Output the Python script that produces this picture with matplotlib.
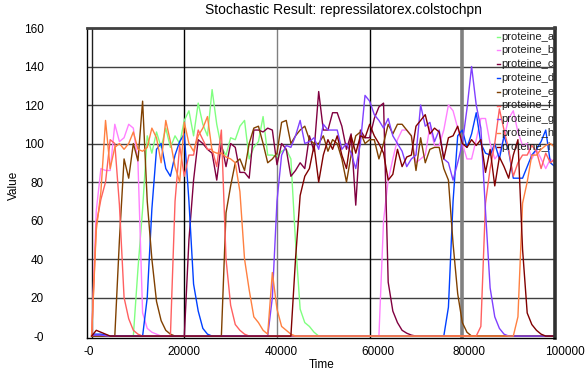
import matplotlib
matplotlib.use('Agg')
import matplotlib.pyplot as plt
from matplotlib.transforms import ScaledTranslation
import numpy as np

plt.rcParams['font.family'] = ['Liberation Sans', 'DejaVu Sans']

# sampling times (every 1000 time units)
time = [i * 1000 for i in range(101)]

series_names = ['proteine_a', 'proteine_b', 'proteine_c', 'proteine_d', 'proteine_e',
                'proteine_f', 'proteine_g', 'proteine_h', 'proteine_i']
series_colors = ['#80ff80', '#ff80ff', '#800040', '#0040ff', '#804000',
                 '#ff6060', '#8040ff', '#ff8040', '#800000']

proteine_a = ([0, 0, 0, 0, 0, 0, 0, 0, 0, 0,
               35, 66, 104, 95, 106, 98, 108, 98, 104, 100,
               112, 117, 104, 121, 110, 104, 128, 110, 98, 94,
               103, 102, 109, 112, 92, 98, 101, 114, 94, 94,
               93, 96, 97, 92, 49, 14, 7, 5, 2, 0]
              + [0] * 51)

proteine_b = ([0, 65, 87, 86, 86, 110, 101, 103, 110, 108,
               90, 12, 4, 2, 1, 0, 0, 0, 0, 0]
              + [0] * 40 +
              [0, 0, 0, 60, 81, 92, 102, 107, 107, 104,
               90, 92, 94, 109, 99, 99, 107, 120, 117, 108,
               100, 92, 92, 102, 113, 113, 100, 92, 95, 103,
               113, 117, 106, 99, 100, 92, 97, 92, 87, 92, 90])

proteine_c = ([0] * 20 +
              [0, 50, 81, 102, 100, 97, 95, 81, 100, 88,
               100, 98, 85, 85, 82, 107, 107, 106, 108, 107,
               89, 100, 97, 83, 86, 90, 87, 104, 96, 127,
               107, 107, 116, 116, 109, 97, 105, 68, 107, 103,
               103, 113, 119, 121, 28, 13, 7, 3, 1.5, 0.5]
              + [0] * 31)

proteine_d = ([1, 1, 1, 0.5, 0, 0, 0, 0, 0, 0,
               0, 0, 20, 66, 97, 100, 87, 83, 94, 101,
               105, 70, 27, 13, 4, 1, 0, 0, 0, 0]
              + [0] * 46 +
              [0, 15, 70, 104,
               107, 98, 105, 116, 100, 95, 94, 100, 92, 104,
               96, 82, 82, 82, 88, 94, 97, 101, 107, 90, 88])

proteine_e = ([0, 0, 0, 0, 0, 0, 50, 92, 82, 100,
               91, 122, 70, 40, 18, 8, 3, 1, 0, 0,
               0, 0, 0, 0, 0, 0, 0, 0, 0, 64,
               78, 90, 92, 86, 100, 108, 109, 100, 90, 92,
               95, 111, 112, 100, 104, 107, 109, 102, 100, 100,
               104, 96, 102, 100, 92, 80, 94, 104, 106, 100,
               102, 102, 92, 100, 110, 105, 110, 110, 107, 104,
               86, 103, 90, 97, 98, 98, 87, 81, 48, 22,
               7, 2]
              + [0] * 19)

proteine_f = ([0, 58, 71, 80, 102, 100, 68, 20, 9, 3,
               1, 0, 0, 0, 0, 0, 0, 0, 70, 99,
               83, 94, 94, 107, 102, 97, 97, 88, 107, 40,
               16, 6, 3, 1]
              + [0] * 50 +
              [5, 69, 87, 100, 118, 107,
               97, 83, 90, 94, 94, 99, 96, 87, 95, 90, 92])

proteine_g = ([0.5, 0.5, 0.5, 0.2]
              + [0] * 35 +
              [20,
               70, 94, 99, 98, 104, 112, 100, 101, 103, 97,
               110, 107, 107, 107, 97, 100, 95, 87, 100, 125,
               122, 115, 112, 108, 113, 104, 100, 96, 88, 92,
               94, 120, 109, 111, 101, 107, 92, 90, 81, 90,
               100, 118, 140, 120, 108, 65, 25, 10, 4, 1]
              + [0] * 11)

proteine_h = ([0, 55, 75, 112, 87, 98, 100, 97, 100, 106,
               97, 96, 98, 108, 103, 90, 112, 101, 88, 80,
               111, 100, 96, 104, 108, 114, 96, 95, 95, 93,
               92, 90, 75, 40, 24, 10, 7, 3, 1, 33,
               14, 5, 3, 1]
              + [0] * 48 +
              [10, 69, 80, 94, 94, 97, 99, 100, 98])

proteine_i = ([0, 3, 2, 1]
              + [0] * 40 +
              [40, 73, 83, 87, 99, 80,
               94, 102, 97, 104, 94, 87, 104, 95, 104, 103,
               110, 104, 100, 95, 81, 84, 97, 88, 93, 94,
               109, 112, 115, 105, 108, 106, 92, 103, 104, 109,
               100, 98, 102, 99, 102, 85, 97, 78, 93, 88,
               82, 94, 102, 45, 12, 6, 3, 1, 0, 0, 0])

all_series = [proteine_a, proteine_b, proteine_c, proteine_d, proteine_e,
              proteine_f, proteine_g, proteine_h, proteine_i]

y_ticks = [0, 20, 40, 60, 80, 100, 120, 140, 160]
y_tick_labels = ['-0', '20', '40', '60', '80', '100', '120', '140', '160']
x_ticks = [0, 20000, 40000, 60000, 80000, 100000]
x_tick_labels = ['-0', '20000', '40000', '60000', '80000', '100000']

W, H = 585, 371
fig = plt.figure(figsize=(W / 100, H / 100), dpi=100)
ax = fig.add_axes([87 / W, (H - 338) / H, (555 - 87) / W, (338 - 28) / H])
ax.set_xlim(-1000, 100000)
ax.set_ylim(-1, 160)

# grid lines
for yv in y_ticks[1:-1]:
    ax.axhline(yv, color='#404040', lw=1.0, zorder=1)
vstyle = {0: ('#202020', 1.0), 20000: ('#000000', 1.0), 40000: ('#808080', 1.0),
          60000: ('#000000', 1.0), 80000: ('#808080', 2.6)}
for xv, (c, lw) in vstyle.items():
    ax.axvline(xv, color=c, lw=lw, zorder=1)

for vals, col, name in zip(all_series, series_colors, series_names):
    ax.plot(time, vals, color=col, lw=1.0, label=name, zorder=2)

# spines
for s in ['left', 'bottom']:
    ax.spines[s].set_color('#000000')
    ax.spines[s].set_linewidth(1.0)
ax.spines['top'].set_color('#404040')
ax.spines['top'].set_linewidth(2.0)
ax.spines['right'].set_color('#303030')
ax.spines['right'].set_linewidth(2.6)

ax.set_yticks(y_ticks)
ax.set_yticklabels(y_tick_labels, fontsize=8.5)
ax.set_xticks(x_ticks)
ax.set_xticklabels(x_tick_labels, fontsize=8.5)
ax.tick_params(axis='both', length=0)
ax.tick_params(axis='y', pad=31)
ax.tick_params(axis='x', pad=6)
x_offsets_px = [-3, 0, 4, 8, 7, 10]
for lab, dx in zip(ax.get_xticklabels(), x_offsets_px):
    lab.set_transform(lab.get_transform() + ScaledTranslation(dx / 100, 0, fig.dpi_scale_trans))

# legend drawn inside the plot, clipped by the axes edge
leg_x_line0, leg_x_line1, leg_x_text = 497, 500, 501
for k, (name, col) in enumerate(zip(series_names, series_colors)):
    yp = 36.5 + k * 13.8
    yf = 1 - (yp - 28) / (338 - 28)
    x0 = (leg_x_line0 - 87) / (555 - 87)
    x1 = (leg_x_line1 - 87) / (555 - 87)
    xt = (leg_x_text - 87) / (555 - 87)
    ax.plot([x0, x1], [yf, yf], color=col, lw=1.0, transform=ax.transAxes, zorder=5)
    ax.text(xt, yf, name, transform=ax.transAxes, fontsize=8, va='center', ha='left',
            color='#202020', clip_on=True, zorder=5)

fig.text(343 / W, 1 - 10 / H, 'Stochastic Result: repressilatorex.colstochpn',
         ha='center', va='center', fontsize=10)
fig.text(322 / W, 1 - 365 / H, 'Time', ha='center', va='center', fontsize=8.5)
fig.text(14 / W, 1 - 185 / H, 'Value', ha='center', va='center', fontsize=8.5, rotation=90)

fig.savefig('out.png', dpi=100)
